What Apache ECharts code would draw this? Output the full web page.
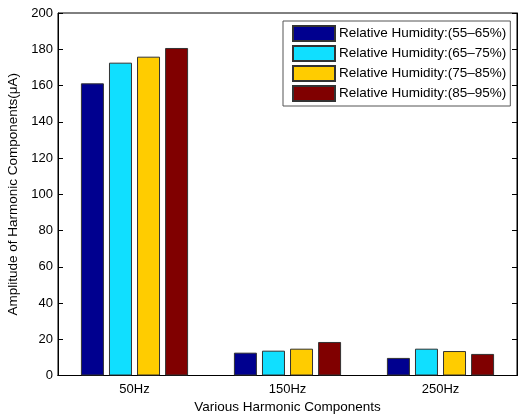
<!DOCTYPE html>
<html><head><meta charset="utf-8">
<script src="https://cdn.jsdelivr.net/npm/echarts@6/dist/echarts.min.js"></script>
<style>html,body{margin:0;padding:0;background:#fff}#c{width:518px;height:416px}</style>
</head><body><div id="c"></div>
<script>
const categories = ['50Hz', '150Hz', '250Hz'];
const seriesNames = ['Relative Humidity:(55\u201365%)', 'Relative Humidity:(65\u201375%)', 'Relative Humidity:(75\u201385%)', 'Relative Humidity:(85\u201395%)'];
const rh55_65 = [161.2, 12.6, 9.7];
const rh65_75 = [172.6, 13.7, 14.8];
const rh75_85 = [175.9, 14.8, 13.5];
const rh85_95 = [180.7, 18.5, 11.9];
const yTicks = [0, 20, 40, 60, 80, 100, 120, 140, 160, 180, 200];
const colors = ['#00008f', '#10dfff', '#ffcc00', '#800000'];
const values = [rh55_65, rh65_75, rh75_85, rh85_95];

const font = 'Liberation Sans, Arial, sans-serif';
const chart = echarts.init(document.getElementById('c'));
chart.setOption({
  animation: false,
  backgroundColor: '#fff',
  grid: {left: 58, right: 1, top: 13, bottom: 40.5, show: true, borderColor: '#000', borderWidth: 1, containLabel: false, outerBoundsMode: 'none'},
  legend: {
    orient: 'vertical', left: 283, top: 21,
    itemWidth: 42, itemHeight: 15, itemGap: 3,
    padding: [4, 4, 4, 9],
    backgroundColor: '#fff', borderColor: '#555', borderWidth: 1,
    textStyle: {fontFamily: font, fontSize: 13.5, lineHeight: 15, color: '#000', padding: [0, 0, 0, -1]},
    icon: 'rect',
    data: seriesNames
  },
  xAxis: [{
    type: 'category', data: categories, position: 'bottom',
    axisLine: {lineStyle: {color: '#000', width: 1}},
    axisTick: {inside: true, alignWithLabel: true, length: 5, lineStyle: {color: '#000'}},
    axisLabel: {fontFamily: font, fontSize: 13, color: '#000', margin: 7},
    name: 'Various Harmonic Components', nameLocation: 'middle', nameGap: 24,
    nameTextStyle: {fontFamily: font, fontSize: 13.5, color: '#000'}
  }, {
    type: 'category', data: categories, position: 'top',
    axisLine: {lineStyle: {color: '#000', width: 1}},
    axisTick: {inside: true, alignWithLabel: true, length: 5, lineStyle: {color: '#000'}},
    axisLabel: {show: false}
  }],
  yAxis: [{
    type: 'value', min: yTicks[0], max: yTicks[yTicks.length - 1], interval: 20, position: 'left',
    axisLine: {show: true, lineStyle: {color: '#000'}},
    axisTick: {show: true, inside: true, length: 5, lineStyle: {color: '#000'}},
    axisLabel: {fontFamily: font, fontSize: 13, color: '#000', margin: 5},
    splitLine: {show: false},
    name: 'Amplitude of Harmonic Components(\u03bcA)', nameLocation: 'middle', nameGap: 35, nameRotate: 90,
    nameTextStyle: {fontFamily: font, fontSize: 13.5, color: '#000'}
  }, {
    type: 'value', min: yTicks[0], max: yTicks[yTicks.length - 1], interval: 20, position: 'right',
    axisLine: {show: true, lineStyle: {color: '#000'}},
    axisTick: {show: true, inside: true, length: 5, lineStyle: {color: '#000'}},
    axisLabel: {show: false},
    splitLine: {show: false}
  }],
  series: seriesNames.map((n, i) => ({
    name: n, type: 'bar', data: values[i], xAxisIndex: 0, yAxisIndex: 0,
    barWidth: 23, barGap: '22%',
    itemStyle: {color: colors[i], borderColor: '#333', borderWidth: 1}
  }))
});
</script></body></html>
